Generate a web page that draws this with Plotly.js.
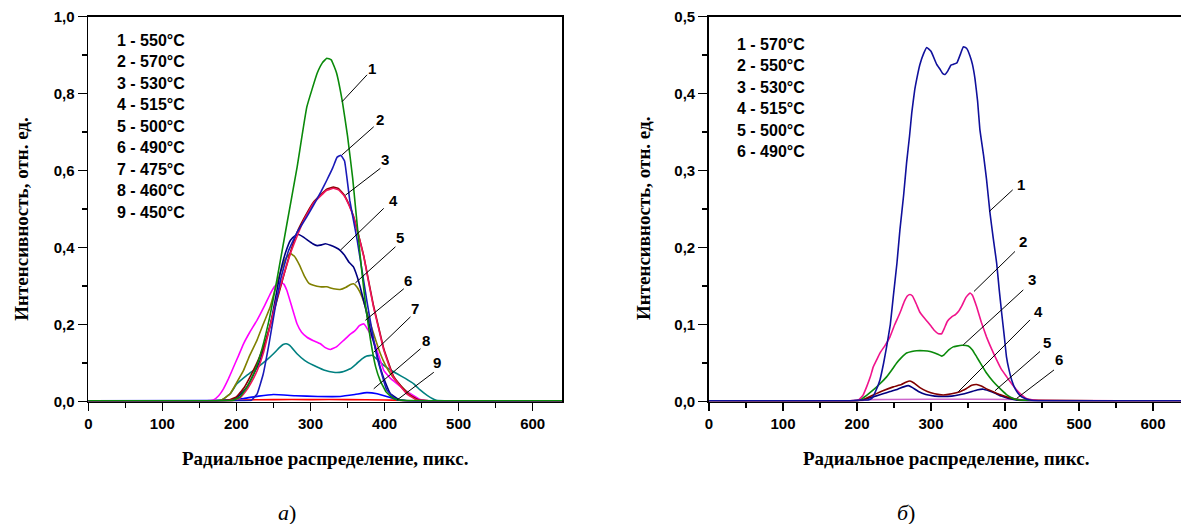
<!DOCTYPE html>
<html><head><meta charset="utf-8">
<script src="https://cdn.plot.ly/plotly-3.0.1.min.js"></script>
<style>html,body{margin:0;padding:0;background:#fff}#chart{width:1181px;height:524px}</style>
</head><body><div id="chart"></div>
<script>
// ---------- Panel a) ----------
const a1_x = [0,150,195,205,215,225,235,245,255,268,282,295,309,316,322,328,335,343,350,357,367,375,381,388,394,402,412,425,640];
const a1_y = [0.002,0.002,0.003,0.012,0.04,0.08,0.14,0.22,0.32,0.46,0.61,0.765,0.853,0.88,0.892,0.888,0.855,0.78,0.69,0.58,0.38,0.24,0.16,0.09,0.055,0.025,0.008,0.003,0.002];
const a2_x = [0,200,220,228,236,244,252,260,270,282,295,304,314,322,330,336,341,346,353,363,376,390,403,415,430,640];
const a2_y = [0.002,0.002,0.003,0.02,0.07,0.15,0.24,0.32,0.39,0.44,0.48,0.51,0.545,0.575,0.607,0.635,0.64,0.625,0.523,0.42,0.263,0.115,0.03,0.006,0.002,0.002];
const a3_x = [0,180,195,204,212,219,228,237,246,255,264,273,282,291,304,314,322,331,338,345,352,358,365,372,378,385,392,399,412,430,444,460,640];
const a3_y = [0.002,0.002,0.003,0.008,0.025,0.046,0.08,0.13,0.2,0.272,0.33,0.385,0.43,0.471,0.515,0.535,0.549,0.554,0.55,0.536,0.51,0.48,0.43,0.376,0.315,0.246,0.19,0.133,0.063,0.02,0.004,0.002,0.002];
const a3b_x = [0,175,190,200,210,220,230,240,250,260,270,282,291,304,314,322,331,338,345,352,358,365,372,378,385,392,399,412,430,446,460,640];
const a3b_y = [0.002,0.002,0.004,0.012,0.035,0.07,0.11,0.16,0.23,0.3,0.37,0.44,0.475,0.518,0.538,0.552,0.557,0.553,0.538,0.512,0.482,0.432,0.378,0.318,0.25,0.193,0.137,0.066,0.022,0.004,0.002,0.002];
const a4_x = [0,180,196,205,214,223,232,240,246,252,259,266,273,279,284,290,297,303,309,315,320,327,334,340,346,352,358,363,367,374,381,388,394,401,408,421,435,640];
const a4_y = [0.002,0.002,0.005,0.018,0.037,0.07,0.107,0.16,0.2,0.26,0.333,0.385,0.419,0.43,0.434,0.428,0.418,0.41,0.405,0.407,0.41,0.406,0.4,0.393,0.38,0.362,0.35,0.325,0.298,0.245,0.185,0.135,0.089,0.05,0.02,0.003,0.002,0.002];
const a5_x = [0,170,180,191.6,200,209.6,218,227.7,236,245.7,252,259,266,272.7,278,285,292,298,304,313,322,331,340,348,354,358.3,363,369.6,375,380.9,388,394.4,401,408,417,426,435,444,460,640];
const a5_y = [0.002,0.002,0.004,0.02,0.048,0.081,0.12,0.159,0.2,0.246,0.29,0.333,0.37,0.385,0.378,0.355,0.325,0.307,0.302,0.298,0.298,0.293,0.291,0.297,0.304,0.306,0.297,0.272,0.24,0.202,0.16,0.124,0.095,0.072,0.05,0.033,0.016,0.004,0.002,0.002];
const a6_x = [0,160,169,176,182.5,189,196,203,209.6,218,227.7,237,245.7,252,259,264,268,275,281.8,288,295.3,304,313.3,320,326.8,335,344.8,352,360.6,366,371.8,378,385,392,398.9,408,417,426,435,448,460,640];
const a6_y = [0.002,0.002,0.004,0.015,0.033,0.058,0.089,0.12,0.15,0.18,0.211,0.245,0.28,0.3,0.311,0.305,0.289,0.245,0.202,0.18,0.167,0.158,0.15,0.14,0.135,0.142,0.159,0.172,0.185,0.197,0.202,0.185,0.159,0.12,0.081,0.06,0.046,0.032,0.02,0.005,0.002,0.002];
const a7_x = [0,170,180,191.6,200.6,214,223,232,241,250,258,263,267.3,272,281.8,292,304,318,331,343,353.8,362,369.6,376,383.2,391,399,408,417,428,439.4,448,457.5,470,640];
const a7_y = [0.002,0.002,0.004,0.02,0.046,0.068,0.081,0.094,0.108,0.124,0.14,0.148,0.15,0.146,0.124,0.107,0.094,0.082,0.076,0.077,0.085,0.098,0.111,0.118,0.12,0.108,0.094,0.082,0.072,0.06,0.046,0.03,0.016,0.003,0.002];
const a8_x = [0,180,210,230,250,280,310,340,360,376,390,403,417,430,640];
const a8_y = [0.002,0.003,0.008,0.014,0.018,0.015,0.013,0.013,0.018,0.023,0.02,0.013,0.005,0.002,0.002];
const a9_x = [0,190,210,250,300,350,400,420,435,640];
const a9_y = [0.001,0.002,0.004,0.005,0.005,0.005,0.004,0.003,0.001,0.001];

const legendA = ['1 - 550°C','2 - 570°C','3 - 530°C','4 - 515°C','5 - 500°C','6 - 490°C','7 - 475°C','8 - 460°C','9 - 450°C'];
// curve label numbers, their text positions and leader lines (data units)
const labelsA = ['1','2','3','4','5','6','7','8','9'];
const labA_x = [383,393.5,401,412.4,421.4,431.3,441.7,455.3,471];
const labA_y = [0.866,0.734,0.628,0.523,0.426,0.315,0.241,0.159,0.102];
const leadA_x0 = [342.6,342.6,347,340.3,360.6,374.1,385.4,385.4,417];
const leadA_y0 = [0.779,0.641,0.536,0.393,0.308,0.211,0.128,0.033,0.004];
const leadA_x1 = [376.4,385.4,394.4,398.9,414.7,426,435,448.5,466.5];
const leadA_y1 = [0.849,0.714,0.606,0.502,0.402,0.293,0.22,0.137,0.076];

// ---------- Panel б) ----------
const b1_x = [0,190,205,215,220,225,231,236,240,245,249,254,258,263,267,271,274,278,280.7,285,290,294.2,300,307.7,312,316,319,323,327,330,335,340,343.7,348,352.7,356,359.5,363,366,371,375,379.7,384,388.7,392,395.5,399,402,405,409,414,420,427,434,445,640];
const b1_y = [0.001,0.001,0.002,0.002,0.004,0.013,0.028,0.05,0.071,0.1,0.136,0.18,0.223,0.268,0.31,0.345,0.375,0.405,0.419,0.438,0.452,0.46,0.455,0.438,0.432,0.426,0.425,0.43,0.437,0.438,0.44,0.452,0.461,0.459,0.449,0.438,0.419,0.39,0.354,0.32,0.289,0.245,0.213,0.18,0.147,0.115,0.085,0.058,0.043,0.028,0.016,0.008,0.004,0.002,0.001,0.001];
const b2_x = [0,190,202,208,213,218,222,227,231,238,244.6,251,258,264,268,271.6,275,280,285,289.6,295,300,305,310,314.4,318,322,328,333,337,342,347,352.7,356,361.7,368,375,382,388.7,395,402.3,409,415.8,422,429,440,640];
const b2_y = [0.001,0.001,0.002,0.008,0.019,0.032,0.045,0.055,0.063,0.073,0.084,0.1,0.115,0.13,0.137,0.139,0.137,0.127,0.116,0.11,0.104,0.098,0.092,0.088,0.088,0.095,0.104,0.11,0.113,0.117,0.125,0.135,0.141,0.138,0.123,0.103,0.084,0.068,0.054,0.042,0.032,0.023,0.015,0.009,0.004,0.002,0.001];
const b3_x = [0,195,204,213,222,231,240,247,253.6,260,267,274,280.7,290,298.8,305,310,314.4,318,324,330,334.7,342,350.4,356,361.7,368,375,384,393,402,411,420,640];
const b3_y = [0.001,0.001,0.002,0.008,0.015,0.023,0.032,0.041,0.05,0.057,0.063,0.065,0.066,0.066,0.065,0.063,0.061,0.059,0.061,0.067,0.071,0.072,0.073,0.072,0.067,0.058,0.048,0.037,0.026,0.017,0.009,0.004,0.002,0.001];
const b4_x = [0,200,210,222,235,249,260,266,271.6,277,285,295,305,316.6,328,339,348,355,361.7,368,376,384,393,402,411,420,640];
const b4_y = [0.001,0.001,0.003,0.0085,0.014,0.019,0.022,0.025,0.0267,0.024,0.018,0.013,0.01,0.0085,0.01,0.0128,0.017,0.021,0.022,0.02,0.016,0.0128,0.009,0.006,0.004,0.002,0.001];
const b5_x = [0,200,210,222,235,244.6,255,263,269.4,275,283,293,305,316.6,328,340,352,362,370.7,378,386,395,405,415,425,640];
const b5_y = [0.001,0.001,0.003,0.006,0.01,0.013,0.016,0.019,0.0206,0.018,0.013,0.009,0.007,0.0065,0.007,0.009,0.012,0.015,0.016,0.014,0.011,0.007,0.004,0.002,0.001,0.001];
const b6_x = [0,205,215,300,420,432,640];
const b6_y = [0.001,0.001,0.0025,0.003,0.0025,0.001,0.001];

const legendB = ['1 - 570°C','2 - 550°C','3 - 530°C','4 - 515°C','5 - 500°C','6 - 490°C'];
const labelsB = ['1','2','3','4','5','6'];
const labB_x = [421.2,424.7,436,445,457,473.4];
const labB_y = [0.282,0.208,0.158,0.117,0.077,0.054];
const leadB_x0 = [378.8,358.1,343.6,337,386.5,415.8];
const leadB_y0 = [0.247,0.143,0.0736,0.0128,0.014,0.004];
const leadB_x1 = [410.4,413.5,424.7,433.8,447.3,466.2];
const leadB_y1 = [0.275,0.195,0.145,0.106,0.065,0.041];

const xTitle = 'Радиальное распределение, пикс.';
const yTitle = 'Интенсивность, отн. ед.';
const panelTags = ['<i>а</i>)', '<i>б</i>)'];

// ---------- build ----------
const W = 1181, H = 524;
const SANS = '"Liberation Sans", Arial, sans-serif';
const SERIF = '"Liberation Serif", "Times New Roman", serif';
const traces = [];
function curve(x, y, color, xa, ya) {
  traces.push({x: x, y: y, type: 'scatter', mode: 'lines', xaxis: xa, yaxis: ya,
    line: {color: color, width: 1.6, shape: 'spline', smoothing: 0.3}, hoverinfo: 'skip'});
}
curve(a9_x, a9_y, '#ff0000', 'x', 'y');
curve(a8_x, a8_y, '#0000ff', 'x', 'y');
curve(a7_x, a7_y, '#008080', 'x', 'y');
curve(a6_x, a6_y, '#ff00ff', 'x', 'y');
curve(a5_x, a5_y, '#808000', 'x', 'y');
curve(a4_x, a4_y, '#000080', 'x', 'y');
curve(a3b_x, a3b_y, '#8b0000', 'x', 'y');
curve(a3_x, a3_y, '#f0145a', 'x', 'y');
curve(a2_x, a2_y, '#1a1ab8', 'x', 'y');
curve(a1_x, a1_y, '#0a8a0a', 'x', 'y');

curve(b6_x, b6_y, '#cc66cc', 'x2', 'y2');
curve(b5_x, b5_y, '#000080', 'x2', 'y2');
curve(b4_x, b4_y, '#800000', 'x2', 'y2');
curve(b3_x, b3_y, '#0a8a0a', 'x2', 'y2');
curve(b2_x, b2_y, '#f0148c', 'x2', 'y2');
curve(b1_x, b1_y, '#10109c', 'x2', 'y2');

function leaders(x0, y0, x1, y1, xa, ya) {
  for (let i = 0; i < x0.length; i++) {
    traces.push({x: [x0[i], x1[i]], y: [y0[i], y1[i]], type: 'scatter', mode: 'lines',
      xaxis: xa, yaxis: ya, line: {color: '#000', width: 1}, hoverinfo: 'skip'});
  }
}
leaders(leadA_x0, leadA_y0, leadA_x1, leadA_y1, 'x', 'y');
leaders(leadB_x0, leadB_y0, leadB_x1, leadB_y1, 'x2', 'y2');

const tickFont = {family: SANS, size: 15, color: '#000', weight: 'bold'};
function xax(domain, range) {
  return {domain: domain, range: range, showline: true, linecolor: '#000', linewidth: 1.8,
    mirror: true, ticks: 'outside', ticklen: 8, tickwidth: 1.5, tickcolor: '#000',
    tick0: 0, dtick: 100, showgrid: false, zeroline: false, tickfont: tickFont,
    minor: {dtick: 50, ticks: 'outside', ticklen: 5, tickwidth: 1.5, tickcolor: '#000', showgrid: false}};
}
function yax(domain, range, dt, mdt, anchor, mirror) {
  return {domain: domain, range: range, anchor: anchor, showline: true, linecolor: '#000', linewidth: 1.8,
    mirror: mirror, ticks: 'outside', ticklen: 9, tickwidth: 1.5, tickcolor: '#000',
    tick0: 0, dtick: dt, tickformat: '.1f', showgrid: false, zeroline: false, tickfont: tickFont,
    minor: {dtick: mdt, ticks: 'outside', ticklen: 5, tickwidth: 1.5, tickcolor: '#000', showgrid: false}};
}
const yDom = [(H - 401.5) / H, (H - 16.7) / H];

const ann = [];
const legFont = {family: SANS, size: 16, color: '#000', weight: 'bold'};
legendA.forEach((t, i) => ann.push({xref: 'paper', yref: 'paper', x: 115 / W, y: 1 - (40 + i * 21.53) / H,
  xanchor: 'left', yanchor: 'middle', text: t, showarrow: false, font: legFont}));
legendB.forEach((t, i) => ann.push({xref: 'paper', yref: 'paper', x: 735 / W, y: 1 - (44.3 + i * 21.5) / H,
  xanchor: 'left', yanchor: 'middle', text: t, showarrow: false, font: legFont}));
const numFont = {family: SANS, size: 15, color: '#000', weight: 'bold'};
labelsA.forEach((t, i) => ann.push({xref: 'x', yref: 'y', x: labA_x[i], y: labA_y[i], text: t,
  showarrow: false, font: numFont, xanchor: 'center', yanchor: 'middle'}));
labelsB.forEach((t, i) => ann.push({xref: 'x2', yref: 'y2', x: labB_x[i], y: labB_y[i], text: t,
  showarrow: false, font: numFont, xanchor: 'center', yanchor: 'middle'}));
const titleFont = {family: SERIF, size: 19, color: '#000'};
ann.push({xref: 'paper', yref: 'paper', x: 325 / W, y: 1 - 458 / H, text: '<b>' + xTitle + '</b>', showarrow: false, font: titleFont, xanchor: 'center', yanchor: 'middle'});
ann.push({xref: 'paper', yref: 'paper', x: 946 / W, y: 1 - 458 / H, text: '<b>' + xTitle + '</b>', showarrow: false, font: titleFont, xanchor: 'center', yanchor: 'middle'});
ann.push({xref: 'paper', yref: 'paper', x: 20.7 / W, y: 1 - 219 / H, text: '<b>' + yTitle + '</b>', textangle: -90, showarrow: false, font: titleFont, xanchor: 'center', yanchor: 'middle'});
ann.push({xref: 'paper', yref: 'paper', x: 643 / W, y: 1 - 219 / H, text: '<b>' + yTitle + '</b>', textangle: -90, showarrow: false, font: titleFont, xanchor: 'center', yanchor: 'middle'});
const tagFont = {family: SERIF, size: 22, color: '#000'};
ann.push({xref: 'paper', yref: 'paper', x: 287 / W, y: 1 - 512 / H, text: panelTags[0], showarrow: false, font: tagFont, xanchor: 'center', yanchor: 'middle'});
ann.push({xref: 'paper', yref: 'paper', x: 906 / W, y: 1 - 512 / H, text: panelTags[1], showarrow: false, font: tagFont, xanchor: 'center', yanchor: 'middle'});

const layout = {
  width: W, height: H, margin: {l: 0, r: 0, t: 0, b: 0}, showlegend: false,
  paper_bgcolor: '#fff', plot_bgcolor: '#fff', separators: ', ',
  xaxis: Object.assign(xax([88.3 / W, 562.3 / W], [0, 640]), {anchor: 'y'}),
  yaxis: yax(yDom, [0, 1], 0.2, 0.1, 'x', true),
  xaxis2: Object.assign(xax([709 / W, 1], [0, (W - 709) / 0.74]), {anchor: 'y2'}),
  yaxis2: yax(yDom, [0, 0.5], 0.1, 0.05, 'x2', false),
  annotations: ann
};
Plotly.newPlot('chart', traces, layout, {displayModeBar: false, staticPlot: true});
</script></body></html>
